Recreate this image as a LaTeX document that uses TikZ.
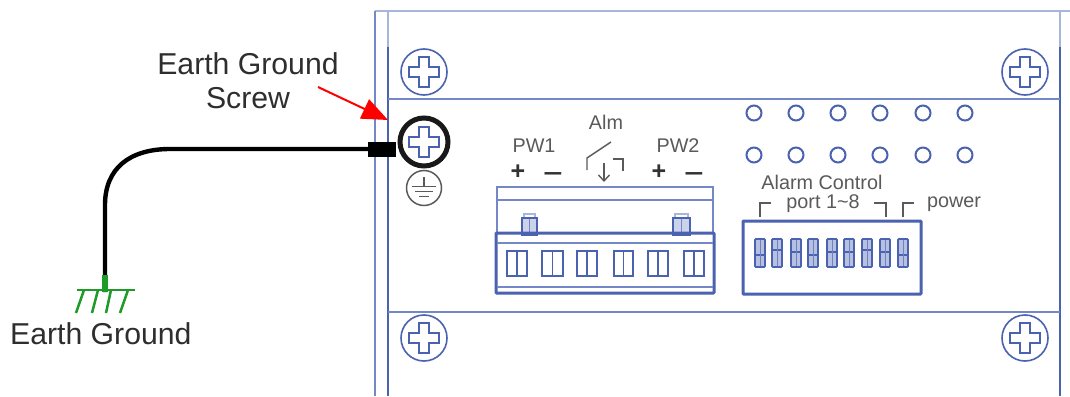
\documentclass[tikz,border=0pt]{standalone}
\usepackage{fontspec}
\setmainfont{Liberation Sans}
\usetikzlibrary{arrows.meta}
\definecolor{panelblue}{HTML}{4A62B0}
\definecolor{lightblue}{HTML}{A9B6DC}
\definecolor{midblue}{HTML}{7488C8}
\definecolor{earthgreen}{HTML}{1E9A28}
\definecolor{labelgrey}{HTML}{5A5A5A}
\newcommand{\crossat}[2]{%
  \draw[screwline] (#1-5,#2-15) -- (#1+5,#2-15) -- (#1+5,#2-5) -- (#1+15,#2-5) -- (#1+15,#2+5)
    -- (#1+5,#2+5) -- (#1+5,#2+15) -- (#1-5,#2+15) -- (#1-5,#2+5) -- (#1-15,#2+5)
    -- (#1-15,#2-5) -- (#1-5,#2-5) -- cycle;}
\tikzset{
  x=1pt,y=-1pt,
  thinframe/.style={draw=midblue,line width=1.1pt},
  darkframe/.style={draw=panelblue,line width=1.6pt},
  screwline/.style={draw=panelblue,line width=1.4pt},
  heavybox/.style={draw=panelblue,line width=3pt,rounded corners=0.8pt},
  window/.style={draw=panelblue,line width=1.2pt},
  led/.style={draw=panelblue,line width=2pt,fill=white},
  greyline/.style={draw=labelgrey,line width=1.4pt},
  biglabel/.style={inner sep=0pt,text=black!82,font=\fontsize{30.2}{34}\selectfont,align=center},
  smalllabel/.style={inner sep=0pt,text=labelgrey,font=\fontsize{19.8}{23}\selectfont},
  signlabel/.style={inner sep=0pt,text=black!80,font=\bfseries\fontsize{25}{25}\selectfont},
  dipswitch/.style={draw=panelblue,line width=1.6pt,fill=lightblue!85,rounded corners=0.8pt},
}
\begin{document}
\begin{tikzpicture}
\useasboundingbox[fill=white] (0,0) rectangle (1070,396);

% panel frame
\draw[draw=lightblue,line width=1.5pt] (375,11) -- (1070,11);
\draw[thinframe] (375,11) -- (375,396);
\draw[draw=lightblue,line width=1.5pt] (388,11) -- (388,47);
\draw[darkframe] (388,47) -- (388,396);
\draw[draw=lightblue,line width=1.5pt] (1060,11) -- (1060,47);
\draw[darkframe] (1060,47) -- (1060,396);
\draw[thinframe] (388,99) -- (1060,99);
\draw[thinframe] (388,312) -- (1060,312);

% corner screws
\foreach \sx/\sy in {424/72,1025/72,424/338,1025/338}{
  \draw[screwline,line width=1.6pt] (\sx,\sy) circle (23pt);
  \crossat{\sx}{\sy}
}

% earth wire
\coordinate (groundfoot) at (105,292);
\coordinate (wirebend) at (105,205);
\node[fill=black,minimum width=28pt,minimum height=15pt,inner sep=0pt] (lug) at (382,149) {};
\draw[line width=4.4pt,black] (groundfoot) -- (wirebend)
  .. controls (105,168) and (130,149) .. (170,149) -- (lug.west);

% earth ground screw
\coordinate (earthscrew) at (424,142);
\draw[draw=black!90,line width=5pt,fill=white] (earthscrew) circle (24pt);
\crossat{424}{142}

% earth mark
\coordinate (earthmark) at (424,188);
\draw[draw=labelgrey,line width=1.5pt] (earthmark) circle (17.5pt);
\draw[draw=labelgrey,line width=1.5pt] (424,177) -- (424,186);
\draw[draw=labelgrey,line width=1.8pt] (412,186.5) -- (436,186.5);
\draw[draw=labelgrey,line width=1.8pt] (415,191.5) -- (433,191.5);
\draw[draw=labelgrey,line width=1.8pt] (419,196.5) -- (429,196.5);

% green ground symbol
\coordinate (stemtop) at (105,275);
\draw[earthgreen,line width=5.5pt] (stemtop) -- (groundfoot);
\draw[earthgreen,line width=2.5pt] (77,290) -- (135,290);
\draw[earthgreen,line width=2.5pt] (84,290) -- (76,313);
\draw[earthgreen,line width=2.5pt] (98,290) -- (92,313);
\draw[earthgreen,line width=2.5pt] (111,290) -- (106,313);
\draw[earthgreen,line width=2.5pt] (128,290) -- (120,313);

% labels
\node[biglabel] (screwlabel) at (248,81) {Earth Ground\\Screw};
\node[biglabel,anchor=west] (groundlabel) at (10,334) {Earth Ground};

% red arrow
\coordinate (arrowstart) at (318,87);
\coordinate (arrowtip) at (388,120);
\draw[red,line width=2pt,-{Triangle[length=26pt,width=21pt]}] (arrowstart) -- (arrowtip);

% terminal block
\draw[thinframe] (497,187) rectangle (713,233);
\draw[thinframe] (497,200) -- (713,200);
\foreach \px/\pw in {522/15,673/17}{
  \draw[draw=lightblue,line width=1.2pt] (\px+2,214) rectangle (\px+\pw-2,219);
  \draw[draw=panelblue,line width=2.6pt,fill=lightblue!60] (\px,218) rectangle (\px+\pw,235);
  \draw[draw=midblue,line width=1.2pt] (\px+\pw/2,219) -- (\px+\pw/2,233);
}
\draw[heavybox] (496,233) rectangle (714,293);
\draw[draw=midblue,line width=1.3pt] (497,243) -- (713,243);
\draw[draw=midblue,line width=1.3pt] (497,287) -- (713,287);
\foreach \wa/\wb in {507/527,542/563,577/597,614/633,648/668,684/704}{
  \draw[window] (\wa,251) rectangle (\wb,276);
  \draw[window] ({(\wa+\wb)/2},251) -- ({(\wa+\wb)/2},276);
}

% power and alarm labels
\node[smalllabel] (pwone) at (534,146) {PW1};
\node[smalllabel] (pwtwo) at (678,146) {PW2};
\node[smalllabel] (alm) at (606,122) {Alm};
\node[signlabel] (plusone) at (518,172) {+};
\node[signlabel] (minusone) at (553,177) {\scalebox{1.35}[1]{–}};
\node[signlabel] (plustwo) at (659,172) {+};
\node[signlabel] (minustwo) at (694,177) {\scalebox{1.35}[1]{–}};

% relay symbol
\draw[greyline] (587,170) -- (587,158) -- (611,142);
\draw[greyline] (613,159) -- (623,159) -- (623,171);
\draw[greyline,-{Straight Barb[length=6pt,width=11pt]}] (604,163) -- (604,182);

% LEDs
\foreach \lx in {754,796,838,880,923,965}{
  \foreach \ly in {113,155}{
    \draw[led] (\lx,\ly) circle (7.5pt);
  }
}

% DIP switch
\node[smalllabel] (alarmctl) at (822,182) {Alarm Control};
\node[smalllabel] (portlabel) at (823,204) {port 1\char`\~8};
\node[smalllabel] (powerlabel) at (954,204) {power};
\draw[greyline] (760,217) -- (760,203) -- (771,203);
\draw[greyline] (874,203) -- (886,203) -- (886,217);
\draw[greyline] (903,217) -- (903,203) -- (914,203);
\draw[heavybox] (743,221) rectangle (921,294);
\foreach \dx/\dy in {760/255,777/250,796/252,813/255,832/252,849/252,867/250,885/252,903/255}{
  \draw[dipswitch] (\dx-5,239) rectangle (\dx+5,267);
  \draw[draw=panelblue,line width=1.8pt] (\dx-4.5,\dy) -- (\dx+4.5,\dy);
  \draw[draw=panelblue!80,line width=1pt] (\dx,240) -- (\dx,266);
}
\end{tikzpicture}
\end{document}
